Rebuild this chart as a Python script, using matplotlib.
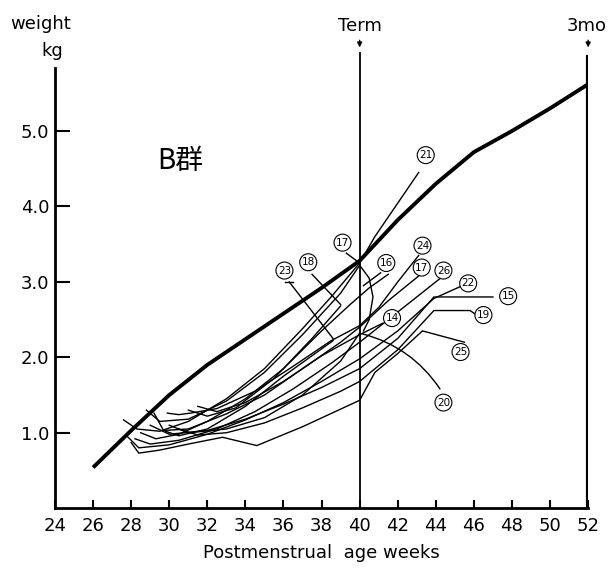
import matplotlib.pyplot as plt

# reference (standard) growth curve
std_weeks = [26, 28, 30, 32, 34, 36, 38, 40, 42, 44, 46, 48, 50, 52]
std_kg = [0.54, 1.03, 1.5, 1.9, 2.24, 2.58, 2.92, 3.28, 3.82, 4.3, 4.72, 5.0, 5.3, 5.62]

# individual infants (B group)
weeks_21 = [27.6, 28.3, 29.5, 31, 33, 35, 37, 38.5, 40, 40.8, 43.1]
kg_21 = [1.17, 1.05, 1.02, 1.15, 1.45, 1.85, 2.38, 2.8, 3.25, 3.6, 4.45]
weeks_16 = [28.5, 29.3, 30.5, 32, 34, 36, 38, 39.5, 40.5, 41.5]
kg_16 = [1.0, 0.92, 0.98, 1.15, 1.45, 1.85, 2.35, 2.7, 2.92, 3.1]
weeks_24 = [29.9, 30.5, 31.1, 32.5, 34.5, 36.5, 38.5, 40, 41, 42, 43.1]
kg_24 = [1.26, 1.24, 1.26, 1.32, 1.55, 1.88, 2.22, 2.42, 2.66, 3.0, 3.35]
weeks_17b = [29.2, 29.7, 31, 33, 35, 37, 39, 40, 41.5, 43.6]
kg_17b = [1.26, 1.03, 1.05, 1.25, 1.5, 1.85, 2.2, 2.4, 2.75, 3.18]
weeks_26 = [28.2, 29, 30.5, 32.5, 34.5, 36.5, 38.5, 40, 42, 44.4]
kg_26 = [0.92, 0.85, 0.9, 1.05, 1.28, 1.58, 1.92, 2.2, 2.6, 3.08]
weeks_22 = [27.8, 28.4, 30, 32, 34, 36, 38, 40, 42, 43.9, 45.4]
kg_22 = [0.95, 0.8, 0.84, 0.98, 1.17, 1.4, 1.68, 1.98, 2.35, 2.78, 2.95]
weeks_15 = [29, 30, 32, 34, 36, 38, 40, 42, 43.9, 47.0]
kg_15 = [1.1, 0.98, 1.03, 1.18, 1.38, 1.6, 1.85, 2.25, 2.8, 2.8]
weeks_19 = [30.5, 31.5, 33, 35, 37, 39, 40, 42, 43.9, 45.8, 46.2]
kg_19 = [1.05, 0.97, 1.0, 1.13, 1.33, 1.55, 1.68, 2.1, 2.62, 2.62, 2.55]
weeks_25 = [28.0, 28.4, 29.5, 31, 32.8, 34.6, 37, 40, 40.8, 42, 43.3, 45.5]
kg_25 = [0.87, 0.73, 0.77, 0.85, 0.94, 0.83, 1.08, 1.43, 1.8, 2.05, 2.35, 2.2]
weeks_14 = [31.5, 32.5, 34, 36, 38, 40, 41.2]
kg_14 = [1.35, 1.28, 1.4, 1.68, 2.02, 2.3, 2.45]
weeks_23 = [29.8, 30.5, 32, 34, 36, 38.6]
kg_23 = [1.02, 0.96, 1.05, 1.35, 1.75, 2.22]
weeks_18 = [31.0, 32, 33.5, 35.5, 37.5, 39.0]
kg_18 = [1.3, 1.22, 1.33, 1.72, 2.25, 2.68]
weeks_17 = [28.8, 29.5, 31, 33, 35, 37, 39, 40, 40.5, 40.7, 40.5, 40.2]
kg_17 = [1.3, 1.15, 1.18, 1.42, 1.8, 2.3, 2.85, 3.22, 3.05, 2.8, 2.5, 2.35]
weeks_20 = [30, 31, 33, 35, 37, 39, 40]
kg_20 = [1.1, 1.0, 1.05, 1.2, 1.5, 1.95, 2.32]

infants = [
    (weeks_21, kg_21), (weeks_16, kg_16), (weeks_24, kg_24), (weeks_17b, kg_17b),
    (weeks_26, kg_26), (weeks_22, kg_22), (weeks_15, kg_15), (weeks_19, kg_19),
    (weeks_25, kg_25), (weeks_14, kg_14), (weeks_23, kg_23), (weeks_18, kg_18),
    (weeks_17, kg_17), (weeks_20, kg_20),
]

# circled numbers and where they sit
label_names = ['21', '17', '18', '23', '16', '24', '17', '26', '22', '15', '19', '14', '25', '20']
label_x = [43.47, 39.1, 37.3, 36.05, 41.4, 43.3, 43.26, 44.4, 45.7, 47.8, 46.5, 41.7, 45.3, 44.4]
label_y = [4.68, 3.52, 3.26, 3.15, 3.25, 3.48, 3.19, 3.15, 2.98, 2.81, 2.56, 2.52, 2.07, 1.40]

x_ticks = list(range(24, 53, 2))
y_ticks = [1, 2, 3, 4, 5]

fig = plt.figure(figsize=(6.12, 5.71), dpi=100)
ax = fig.add_axes([0.0899, 0.110, 0.961 - 0.0899, 0.982 - 0.110])
ax.set_xlim(24, 52)
ax.set_ylim(0, 6.6)

for w, k in infants:
    ax.plot(w, k, color='black', lw=1.0, solid_joinstyle='miter')

ax.plot(std_weeks, std_kg, color='black', lw=2.8, solid_capstyle='butt')

# term and 3 months lines
ax.plot([40, 40], [0, 6.04], color='black', lw=1.3)
ax.plot([52, 52], [0, 5.98], color='black', lw=3.0)
ax.annotate('', xy=(40, 6.07), xytext=(40, 6.24),
            arrowprops=dict(arrowstyle='-|>', color='black', lw=1.0, mutation_scale=7))
ax.annotate('', xy=(52, 6.07), xytext=(52, 6.24),
            arrowprops=dict(arrowstyle='-|>', color='black', lw=1.0, mutation_scale=7))
ax.text(40, 6.39, 'Term', ha='center', va='center', fontsize=13)
ax.text(51.9, 6.39, '3mo', ha='center', va='center', fontsize=13, clip_on=False)

# leader lines
ax.plot([36.3, 38.6], [3.0, 2.25], color='black', lw=1.0)
ax.plot([36.1, 36.5], [3.0, 3.0], color='black', lw=1.0)
ax.plot([37.5, 39.0], [3.1, 2.7], color='black', lw=1.0)
ax.plot([39.3, 40.0], [3.38, 3.25], color='black', lw=1.0)
ax.plot([41.1, 40.2], [3.12, 2.95], color='black', lw=1.0)
ax.annotate('', xy=(40, 2.32), xytext=(44.3, 1.55),
            arrowprops=dict(arrowstyle='-', color='black', lw=1.0,
                            connectionstyle='arc3,rad=0.2'))

for name, lx, ly in zip(label_names, label_x, label_y):
    ax.text(lx, ly, name, ha='center', va='center', fontsize=7.5,
            bbox=dict(boxstyle='circle,pad=0.18', fc='white', ec='black', lw=0.8))

ax.text(30.6, 4.6, 'B群', fontsize=20, ha='center', va='center',
        family=['Noto Sans CJK JP', 'DejaVu Sans'])

ax.spines['top'].set_visible(False)
ax.spines['right'].set_visible(False)
ax.spines['left'].set_linewidth(2.0)
ax.spines['bottom'].set_linewidth(2.0)
ax.spines['left'].set_bounds(0, 5.84)

ax.set_xticks(x_ticks)
ax.set_xticklabels([str(t) for t in x_ticks], fontsize=13)
ax.set_yticks(y_ticks)
ax.set_yticklabels(['%.1f' % t for t in y_ticks], fontsize=13)
ax.tick_params(axis='x', direction='in', length=6, width=1.5, pad=6)
ax.tick_params(axis='y', direction='in', length=11, width=1.5, pad=4)

ax.set_xlabel('Postmenstrual  age weeks', fontsize=13, labelpad=7)
fig.text(0.066, 0.958, 'weight', ha='center', va='center', fontsize=13)
fig.text(0.085, 0.910, 'kg', ha='center', va='center', fontsize=13)

fig.savefig('out.png', dpi=100)
